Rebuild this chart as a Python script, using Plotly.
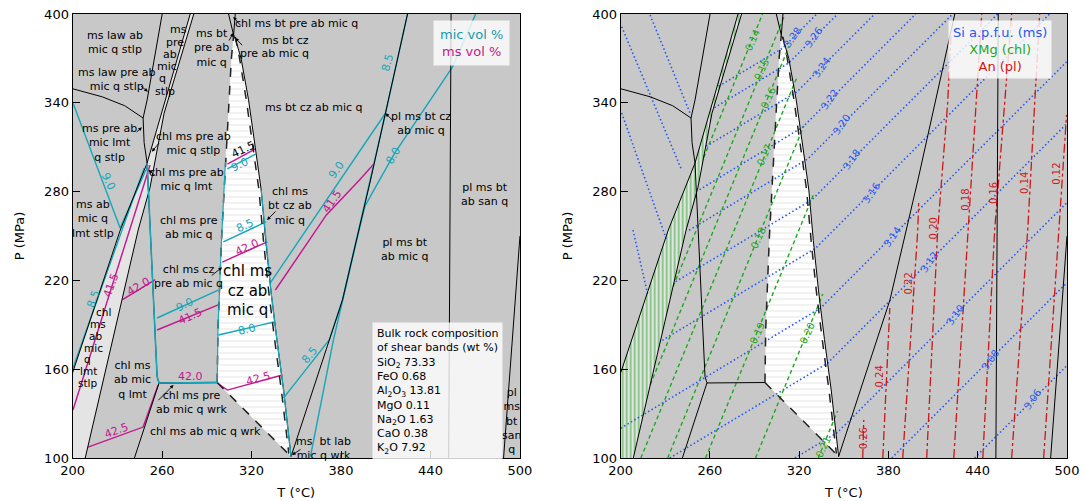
import plotly.graph_objects as go

GRAY = '#c8c8c8'
LIGHT = '#e4e4e4'
CYAN = '#17a6b9'
MAG = '#c4168f'
BLUE = '#2457f5'
GREEN = '#1fa81f'
RED = '#d01515'

# ---------------- phase boundaries (T in degC, P in MPa) ----------------
L1_T = [200, 220, 235, 247.3]
L1_P = [349.5, 344, 338, 329.7]
L2_T = [260.1, 254.1, 250.0, 247.3]
L2_P = [400, 365.5, 341.9, 329.7]
L3_T = [247.3, 248.0, 250.0]
L3_P = [329.7, 313.0, 299.3]
BL_T = [278.9, 250.0, 232.0, 200.0]
BL_P = [400, 299.3, 254.0, 157.5]
BR_T = [281.3, 261.4, 252.0, 244.0, 208.5]
BR_P = [400, 333.0, 283.0, 254.0, 100]
L5_T = [250.0, 252.0, 256.7, 258.0]
L5_P = [299.3, 254.0, 155.0, 150.7]
L6_T = [258.0, 297.0]
L6_P = [150.7, 151.0]
L7_T = [258.0, 241.5]
L7_P = [150.7, 100]
LTA_T = [304.6, 308.0]
LTA_P = [400, 385.8]
LTB_T = [309.1, 308.0]
LTB_P = [400, 385.8]
L9_T = [308.0, 309.5, 313, 318, 322.5, 326.5, 329.5, 333, 337, 341.5, 346.5]
L9_P = [385.8, 382, 370, 342, 310, 281, 247, 213, 180, 146, 101]
WL_T = [297, 297.5, 300, 302.5, 304.5, 306.5, 308]
WL_P = [151, 187, 250, 300, 340, 370, 385.8]
WD_T = [297, 346.5]
WD_P = [151, 101]
WR_T = [309.1, 312, 316.5, 321, 325, 328, 331.5, 335.5, 340, 345]
WR_P = [384.5, 370, 342, 310, 281, 247, 213, 180, 146, 103]
L10_T = [424.6, 409.9, 399.8, 381.0, 347.4, 346.5]
L10_P = [400, 333.1, 287.8, 206.8, 103.4, 101]
L11_T = [453.8, 452.2]
L11_P = [400, 100]
L12_T = [500, 489]
L12_P = [250, 100]

# ---------------- mic vol % isopleths (left) ----------------
MIC_LINES = [
    ([200.3, 231.9, 250.7], [339.9, 255.4, 298]),
    ([200, 248], [160, 296]),
    ([256.7, 297.7], [194.6, 213.5]),
    ([297.7, 335.8], [183.1, 192.1]),
    ([301.1, 329.8], [246.1, 259.5]),
    ([303.8, 322.8], [295.3, 305.4]),
    ([332.5, 409.9], [218.2, 333.1]),
    ([359.5, 374.9, 390, 396, 402, 416, 454.8, 470.3], [101, 179.7, 245, 270, 281, 306, 364.2, 400]),
    ([341.4, 372.2, 381.0, 399.8, 409.9, 424.6], [140.5, 180, 206.8, 287.8, 333.1, 400]),
]
# ---------------- ms vol % isopleths (left) ----------------
MS_LINES = [
    ([200.3, 252], [132.4, 298]),
    ([233.5, 255.5], [207, 220.5]),
    ([210.4, 247.3, 257.4], [107.4, 120.9, 149.3]),
    ([258.0, 297.0], [150.7, 151.0]),
    ([256.7, 297.7], [186.5, 203.4]),
    ([297, 303.8, 340.7], [150.7, 145.9, 156.1]),
    ([300.4, 330.6], [232.4, 246.1]),
    ([303.8, 322.6], [298.6, 308.8]),
    ([336, 370.2, 392.4, 402], [213.5, 264.2, 287.8, 298.6]),
]

# ---------------- right panel isopleths ----------------
SI_LINES = [
    ([266, 309, 331.8], [351.2, 377, 400]),
    ([263, 313, 345.9], [336.7, 366.9, 400]),
    ([257.5, 318.6, 370.8], [310.6, 347.5, 400]),
    ([253, 322.4, 398.3], [281.3, 323.6, 400]),
    ([246, 325.9, 423.2], [253.9, 302.2, 400]),
    ([237, 328.5, 453.4], [219.2, 274.4, 400]),
    ([228, 331, 488.3], [179.5, 241.7, 400]),
    ([200, 217, 334.5, 499.7], [120.1, 130.4, 201.4, 367.6]),
    ([233, 339, 499.7], [100, 164, 325.7]),
    ([317.1, 345.6, 499.7], [100, 117.2, 272.3]),
    ([382.2, 499.7], [100, 218.2]),
    ([437.9, 499.7], [100, 162.2]),
    ([219.8, 246.6], [399.3, 333.1]),
    ([200.7, 241.0], [391.4, 294.6]),
    ([200.7, 230.9], [333.1, 247.3]),
    ([208.3, 218.3], [254.0, 210.1]),
]
XMG_LINES = [
    ([255.8, 295.4], [303.0, 400]),
    ([235.3, 310.0], [215.9, 398.6]),
    ([219.9, 313.2], [149.5, 378.3]),
    ([213.6, 318.1], [100, 356.3]),
    ([231.6, 323.1], [100, 324.4]),
    ([257.1, 329.4], [100, 277.5]),
    ([290.7, 335.9], [100, 210.8]),
    ([332.8, 345.8], [100, 131.7]),
]
AN_LINES = [
    ([362.7, 363.4], [100, 125.7]),
    ([376.2, 380.9], [100, 201.3]),
    ([389.6, 399.7, 400.3], [100, 254.1, 272.3]),
    ([405.7, 413.1, 419.8, 422], [100, 254.1, 339.9, 385]),
    ([423.9, 433.3, 442.7], [100, 254.1, 400]),
    ([443.4, 451.4, 462.8], [100, 254.1, 400]),
    ([462.8, 473.6, 481.6], [100, 254.1, 400]),
    ([484.3, 494.3, 499.7], [100, 254.1, 331.8]),
]

# ---------------- field labels (left panel) ----------------
FIELD_TEXT = ['ms law ab<br>mic q stlp', 'ms law pre ab<br>mic q stlp', 'ms', 'pre', 'ab', 'mic', 'q', 'stlp',
              'ms bt<br>pre ab<br>mic q', 'chl ms bt pre ab mic q', 'ms bt cz', 'pre ab mic q',
              'ms pre ab<br>mic lmt<br>q stlp', 'chl ms pre ab<br>mic q stlp', 'chl ms pre ab<br>mic q lmt',
              'ms bt cz ab mic q', 'pl ms bt cz<br>ab mic q', 'ms ab<br>mic q<br>lmt stlp',
              'chl ms pre<br>ab mic q', 'chl ms cz<br>pre ab mic q', 'chl ms<br>bt cz ab<br>mic q',
              'pl ms bt<br>ab mic q', 'pl ms bt<br>ab san q',
              'chl ms<br>ab mic<br>q lmt', 'chl ms pre<br>ab mic q wrk', 'chl ms ab mic q wrk',
              'ms  bt lab<br>mic q wrk', 'pl<br>ms<br>bt<br>san<br>q']
FIELD_T = [228.5, 229.5, 270.9, 268.8, 265.5, 263.5, 260.1, 262.1,
           293.0, 350.1, 342.7, 335.3,
           224.6, 281.3, 276.7,
           361.6, 433.4, 213.8,
           277.8, 277.8, 345.6,
           422.6, 475.9,
           240.3, 280.0, 289.0,
           368.4, 494.5]
FIELD_P = [380.4, 355.6, 389.2, 380.4, 372.3, 364.2, 356.1, 347.3,
           377.0, 393.9, 382.4, 373.6,
           312.8, 312.8, 288.5,
           336.5, 325.7, 261.5,
           255.7, 222.3, 270.6,
           241.2, 277.9,
           152.7, 137.5, 117.8,
           106.4, 125.0]

# stacked label inside the light band (one word per line)
STACK_TEXT = ['chl', 'ms', 'ab', 'mic', 'q', 'lmt', 'stlp']
STACK_T = [220.5, 217.1, 215.1, 213.8, 209.7, 210.4, 210.4]
STACK_P = [198.6, 190.6, 182.6, 174.6, 166.6, 158.6, 150.6]

# arrows: head (T, P) and tail (T, P)
ARROW_HEAD_T = [250.5, 307.8, 307.8, 309.1, 246.5, 253.2, 250.9, 409.9, 330.4, 300.2, 267.7, 347.2]
ARROW_HEAD_P = [347.5, 387.2, 398.0, 383.8, 323.4, 307.0, 294.6, 332.9, 260.8, 228.8, 149.3, 102.0]
ARROW_TAIL_T = [245.0, 304.4, 313.6, 314.7, 242.0, 258.8, 256.5, 415.4, 337.1, 292.3, 256.5, 353.9]
ARROW_TAIL_P = [352.0, 381.1, 391.2, 377.9, 319.4, 313.7, 290.0, 327.2, 267.6, 222.5, 138.0, 106.5]

# ---------------- contour labels (left) ----------------
CL_TEXT = ['9.0', '8.5', '41.5', '42.0', '42.5', '9.0', '41.5', '42.0', '8.0', '42.5', '42.0', '8.5',
           '41.5', '9.0', '9.0', '41.5', '8.5', '8.0', '8.5']
CL_T = [223.9, 214.0, 226.3, 244.2, 229.7, 275.6, 278.9, 279.4, 317.0, 324.8, 317.0, 315.9,
        314.7, 312.5, 377.4, 374.1, 359.5, 415.0, 411.4]
CL_P = [286.5, 207.9, 216.9, 216.2, 118.9, 203.4, 195.5, 154.9, 186.9, 153.8, 242.0, 257.4,
        308.6, 298.0, 294.6, 273.2, 169.6, 304.7, 367.1]
CL_ANG = [65, -70, -70, -30, -20, -25, -25, 0, -12, -15, -25, -25, -25, -25, -55, -55, -50, -60, -75]
CL_KIND = ['mic', 'mic', 'ms', 'ms', 'ms', 'mic', 'ms', 'ms', 'mic', 'ms', 'ms', 'mic',
           'blk', 'mic', 'mic', 'ms', 'mic', 'mic', 'mic']

# ---------------- contour labels (right) ----------------
SI_TEXT = ['3.28', '3.26', '3.24', '3.22', '3.20', '3.18', '3.16', '3.14', '3.12', '3.10', '3.08', '3.06']
SI_T = [315.6, 329.8, 335.2, 340.6, 348.6, 355.3, 368.1, 382.2, 407.1, 424.5, 448.0, 476.9]
SI_P = [383.8, 383.8, 363.5, 341.9, 325.0, 301.4, 279.0, 249.3, 232.4, 196.6, 166.2, 139.2]
XMG_TEXT = ['0.14', '0.15', '0.16', '0.17', '0.18', '0.19', '0.20', '0.21']
XMG_T = [288.3, 294.9, 298.9, 296.2, 292.1, 291.6, 325.2, 335.9]
XMG_P = [382.4, 362.2, 343.2, 304.7, 248.6, 184.4, 184.4, 107.4]
AN_TEXT = ['0.26', '0.24', '0.22', '0.20', '0.18', '0.16', '0.14', '0.12']
AN_T = [362.9, 374.1, 393.2, 410.0, 431.2, 450.2, 471.5, 492.8]
AN_P = [113.3, 154.9, 218.0, 255.2, 274.3, 278.9, 285.6, 292.3]

X_TICKS = [200, 260, 320, 380, 440, 500]
Y_TICKS = [100, 160, 220, 280, 340, 400]

BULK_TEXT = ('Bulk rock composition<br>of shear bands (wt %)<br>SiO<sub>2</sub> 73.33<br>FeO 0.68<br>'
             'Al<sub>2</sub>O<sub>3</sub> 13.81<br>MgO 0.11<br>Na<sub>2</sub>O 1.63<br>CaO 0.38<br>K<sub>2</sub>O 7.92')

fig = go.Figure()


def add_line(T, P, color, width=1.0, dash='solid', panel=1):
    fig.add_trace(go.Scatter(x=T, y=P, mode='lines',
                             line=dict(color=color, width=width, dash=dash),
                             xaxis='x' if panel == 1 else 'x2', yaxis='y' if panel == 1 else 'y2',
                             hoverinfo='skip', showlegend=False))


def add_fill(T, P, color, pattern=None, panel=1):
    fig.add_trace(go.Scatter(x=T, y=P, mode='lines', fill='toself', fillcolor=color,
                             fillpattern=pattern, line=dict(width=0, color=color),
                             xaxis='x' if panel == 1 else 'x2', yaxis='y' if panel == 1 else 'y2',
                             hoverinfo='skip', showlegend=False))


BAND_T = BL_T + [200] + BR_T[::-1]
BAND_P = BL_P + [100] + BR_P[::-1]
WHITE_T = L9_T + WL_T
WHITE_P = L9_P + WL_P

for panel in (1, 2):
    if panel == 1:
        add_fill(BAND_T, BAND_P, LIGHT, panel=panel)
    else:
        add_fill(BAND_T, BAND_P, LIGHT,
                 pattern=dict(shape='|', fgcolor=GREEN, bgcolor=LIGHT, size=4, solidity=0.45), panel=panel)
    add_fill(WHITE_T, WHITE_P, 'white',
             pattern=dict(shape='-', fgcolor='#b4b4b4', bgcolor='white', size=6, solidity=0.12), panel=panel)

# left: isopleths
for T, P in MS_LINES:
    add_line(T, P, MAG, 1.4)
for T, P in MIC_LINES:
    add_line(T, P, CYAN, 1.4)

# right: isopleths
for T, P in SI_LINES:
    add_line(T, P, BLUE, 1.6, '1.5px,2.5px', panel=2)
for T, P in XMG_LINES:
    add_line(T, P, GREEN, 1.4, '4px,3px', panel=2)
for T, P in AN_LINES:
    add_line(T, P, RED, 1.3, 'dashdot', panel=2)

# boundaries on both panels
SOLID = [(L1_T, L1_P), (L2_T, L2_P), (L3_T, L3_P), (BL_T, BL_P), (BR_T, BR_P), (L5_T, L5_P),
         (L6_T, L6_P), (L7_T, L7_P), (LTA_T, LTA_P), (LTB_T, LTB_P), (L9_T, L9_P), (L10_T, L10_P),
         (L11_T, L11_P), (L12_T, L12_P)]
DASHED = [(WL_T, WL_P), (WD_T, WD_P), (WR_T, WR_P)]
for panel in (1, 2):
    for T, P in SOLID:
        add_line(T, P, 'black', 1.0, panel=panel)
    for T, P in DASHED:
        add_line(T, P, '#222222', 1.5, 'dash', panel=panel)

# teal overlays on boundaries (left)
add_line(L5_T + L6_T[1:], L5_P + L6_P[1:], CYAN, 1.6)
add_line(L9_T[5:], L9_P[5:], CYAN, 1.3)
add_line(WL_T[:4], WL_P[:4], CYAN, 1.2)

annotations = []
for t, T, P in zip(FIELD_TEXT, FIELD_T, FIELD_P):
    annotations.append(dict(text=t, x=T, y=P, xref='x', yref='y', showarrow=False,
                            font=dict(size=11, color='black'), align='center'))
for t, T, P in zip(STACK_TEXT, STACK_T, STACK_P):
    annotations.append(dict(text=t, x=T, y=P, xref='x', yref='y', showarrow=False,
                            font=dict(size=10.5, color='black'), borderpad=0))
annotations.append(dict(text='chl ms<br>cz ab<br>mic q', x=317.0, y=213.5, xref='x', yref='y',
                        showarrow=False, font=dict(size=15, color='black'), align='center'))
for hT, hP, tT, tP in zip(ARROW_HEAD_T, ARROW_HEAD_P, ARROW_TAIL_T, ARROW_TAIL_P):
    annotations.append(dict(text='', x=hT, y=hP, ax=tT, ay=tP, xref='x', yref='y', axref='x', ayref='y',
                            showarrow=True, arrowhead=2, arrowsize=0.8, arrowwidth=0.9, arrowcolor='black'))
KIND_COLOR = {'mic': CYAN, 'ms': MAG, 'blk': 'black'}
for t, T, P, a, k in zip(CL_TEXT, CL_T, CL_P, CL_ANG, CL_KIND):
    annotations.append(dict(text=t, x=T, y=P, xref='x', yref='y', showarrow=False, textangle=a,
                            font=dict(size=11, color=KIND_COLOR[k])))
for t, T, P in zip(SI_TEXT, SI_T, SI_P):
    annotations.append(dict(text=t, x=T, y=P, xref='x2', yref='y2', showarrow=False, textangle=-55,
                            font=dict(size=10, color=BLUE)))
for t, T, P in zip(XMG_TEXT, XMG_T, XMG_P):
    annotations.append(dict(text=t, x=T, y=P, xref='x2', yref='y2', showarrow=False, textangle=-65,
                            font=dict(size=10, color=GREEN)))
for t, T, P in zip(AN_TEXT, AN_T, AN_P):
    annotations.append(dict(text=t, x=T, y=P, xref='x2', yref='y2', showarrow=False, textangle=-90,
                            font=dict(size=10, color=RED)))

annotations.append(dict(text=BULK_TEXT, x=400.5, y=191.9, xref='x', yref='y', xanchor='left', yanchor='top',
                        showarrow=False, align='left', bgcolor='rgba(255,255,255,0.8)', borderpad=4,
                        font=dict(size=11, color='black')))
annotations.append(dict(text='<span style="color:#169aa8">mic vol %</span><br>'
                             '<span style="color:#c4168f">ms vol %</span>',
                        x=467.6, y=380.7, xref='x', yref='y', showarrow=False, align='center',
                        bgcolor='rgba(255,255,255,0.8)', borderpad=6, font=dict(size=13)))
annotations.append(dict(text='<span style="color:#2457f5">Si a.p.f.u. (ms)</span><br>'
                             '<span style="color:#1fa81f">XMg (chl)</span><br>'
                             '<span style="color:#d01515">An (pl)</span>',
                        x=454.7, y=375.7, xref='x2', yref='y2', showarrow=False, align='center',
                        bgcolor='rgba(255,255,255,0.8)', borderpad=4, font=dict(size=13)))

xa = dict(range=[200, 500], tickvals=X_TICKS, ticks='inside', ticklen=7,
          tickcolor='black', showline=True, linecolor='black', linewidth=1, mirror=True, showgrid=False,
          zeroline=False, tickfont=dict(size=13, color='black'), automargin=False,
          title=dict(text='T (°C)', font=dict(size=13, color='black'), standoff=11))
ya = dict(range=[100, 400], tickvals=Y_TICKS, ticks='inside', ticklen=7,
          tickcolor='black', showline=True, linecolor='black', linewidth=1, mirror=True, showgrid=False,
          zeroline=False, tickfont=dict(size=13, color='black'), automargin=False,
          title=dict(text='P (MPa)', font=dict(size=13, color='black'), standoff=16))

fig.update_layout(
    width=1086, height=501, margin=dict(l=0, r=0, t=0, b=0, autoexpand=False),
    paper_bgcolor='white', plot_bgcolor=GRAY,
    font=dict(family='DejaVu Sans', color='black'),
    xaxis=dict(xa, domain=[0.0668, 0.4788], anchor='y'),
    yaxis=dict(ya, domain=[0.0858, 0.9721], anchor='x'),
    xaxis2=dict(xa, domain=[0.5715, 0.9825], anchor='y2'),
    yaxis2=dict(ya, domain=[0.0858, 0.9721], anchor='x2'),
    annotations=annotations, showlegend=False,
)

fig.write_html('out.html')
